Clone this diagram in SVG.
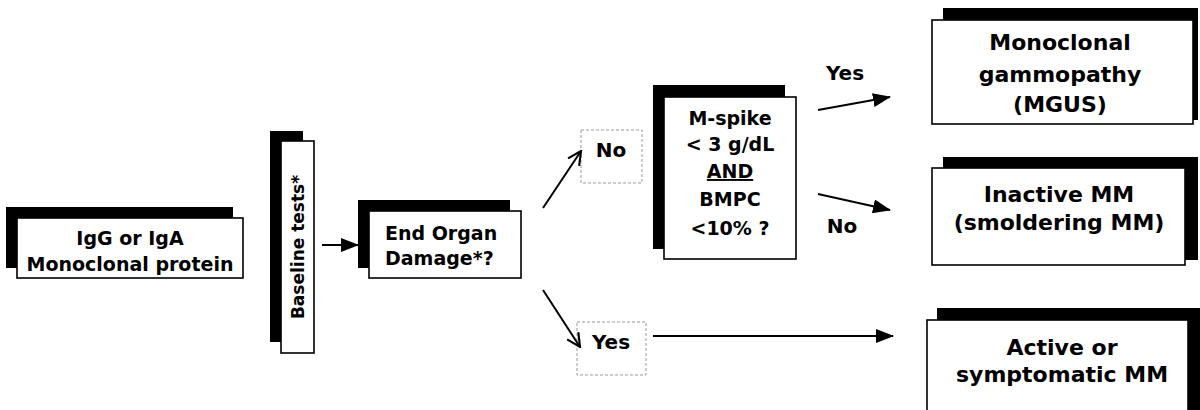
<svg xmlns="http://www.w3.org/2000/svg" width="1200" height="410" viewBox="0 0 1200 410">
<style>
text{font-family:"DejaVu Sans","Liberation Sans",sans-serif;font-weight:bold;fill:#000}
.shadow{fill:#000}
.box{fill:#fff;stroke:#000;stroke-width:1.6}
.lbox{fill:#fff;stroke:#999;stroke-width:1;stroke-dasharray:3 2}
.t17{font-size:17px}
.t19{font-size:19px}
.t22{font-size:22px}
.t20{font-size:20px}
.c{text-anchor:middle}
.conn{stroke:#000;stroke-width:2;fill:none}
</style>
<defs>
<marker id="fill" viewBox="0 0 18 14" refX="17" refY="7" markerWidth="18" markerHeight="14" markerUnits="userSpaceOnUse" orient="auto">
<path d="M0,0 L18,7 L0,14 Z" fill="#000"/>
</marker>
<marker id="open" viewBox="0 0 12 12" refX="11" refY="6" markerWidth="16" markerHeight="16" markerUnits="userSpaceOnUse" orient="auto">
<path d="M1,1 L11,6 L1,11" fill="none" stroke="#000" stroke-width="1.6"/>
</marker>
</defs>
<rect width="1200" height="410" fill="#fff"/>
<g id="igg">
<rect class="shadow" x="6" y="207" width="227" height="61"/>
<rect class="box" x="17" y="218" width="226" height="60"/>
<text class="t19 c" x="130" y="245">IgG or IgA</text>
<text class="t19 c" x="130" y="271">Monoclonal protein</text>
</g>
<g id="baseline">
<rect class="shadow" x="270" y="131" width="33" height="211"/>
<rect class="box" x="281" y="141" width="33" height="212"/>
<text class="t17 c" transform="translate(304,247) rotate(-90)">Baseline tests*</text>
</g>
<g id="endorgan">
<rect class="shadow" x="358" y="200" width="152" height="68"/>
<rect class="box" x="369" y="211" width="152" height="67"/>
<text class="t19" x="385" y="240">End Organ</text>
<text class="t19" x="385" y="265">Damage*?</text>
</g>
<g id="no1">
<rect class="lbox" x="581" y="130" width="61" height="53"/>
<text class="t20 c" x="611" y="157">No</text>
</g>
<g id="yes1">
<rect class="lbox" x="577" y="322" width="69" height="53"/>
<text class="t20 c" x="611" y="349">Yes</text>
</g>
<g id="mspike">
<rect class="shadow" x="653" y="85" width="132" height="164"/>
<rect class="box" x="664" y="97" width="132" height="162"/>
<text class="t19 c" x="730" y="125">M-spike</text>
<text class="t19 c" x="730" y="151">&lt; 3 g/dL</text>
<text class="t19 c" x="730" y="178" text-decoration="underline">AND</text>
<text class="t19 c" x="730" y="206">BMPC</text>
<text class="t19 c" x="730" y="235">&lt;10% ?</text>
</g>
<g id="mgus">
<rect class="shadow" x="943" y="8" width="255" height="112"/>
<rect class="box" x="932" y="20" width="261" height="104"/>
<text class="t22 c" x="1060" y="50">Monoclonal</text>
<text class="t22 c" x="1060" y="82">gammopathy</text>
<text class="t22 c" x="1060" y="112">(MGUS)</text>
</g>
<g id="inactive">
<rect class="shadow" x="943" y="157" width="255" height="103"/>
<rect class="box" x="932" y="168" width="253" height="97"/>
<text class="t22 c" x="1059" y="202">Inactive MM</text>
<text class="t22 c" x="1059" y="230">(smoldering MM)</text>
</g>
<g id="active">
<rect class="shadow" x="937" y="308" width="263" height="110"/>
<rect class="box" x="927" y="320" width="261" height="100"/>
<text class="t22 c" x="1062" y="355">Active or</text>
<text class="t22 c" x="1062" y="382">symptomatic MM</text>
</g>
<g id="labels">
<text class="t20 c" x="845" y="80">Yes</text>
<text class="t20 c" x="842" y="233">No</text>
</g>
<g id="connectors">
<line class="conn" x1="322" y1="245" x2="358" y2="245" marker-end="url(#fill)"/>
<line class="conn" x1="543" y1="208" x2="581" y2="151" marker-end="url(#open)"/>
<line class="conn" x1="543" y1="290" x2="580" y2="347" marker-end="url(#open)"/>
<line class="conn" x1="818" y1="110" x2="890" y2="97" marker-end="url(#fill)"/>
<line class="conn" x1="818" y1="194" x2="890" y2="210" marker-end="url(#fill)"/>
<line class="conn" x1="653" y1="336" x2="893" y2="336" marker-end="url(#fill)"/>
</g>
</svg>
